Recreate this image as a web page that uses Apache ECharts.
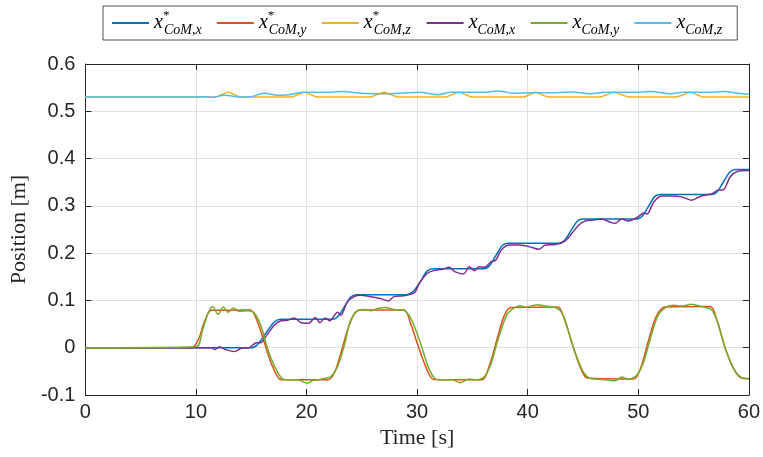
<!DOCTYPE html>
<html><head><meta charset="utf-8">
<script src="https://cdn.jsdelivr.net/npm/echarts@6/dist/echarts.min.js"></script>
<style>html,body{margin:0;padding:0;background:#fff}#c{width:763px;height:457px}</style>
</head><body><div id="c"></div>
<script>
// ---- data (time [s], position [m]) ----
const xTicks = [0, 10, 20, 30, 40, 50, 60];
const yTicks = [-0.1, 0, 0.1, 0.2, 0.3, 0.4, 0.5, 0.6];
const seriesNames = ['x*CoM,x', 'x*CoM,y', 'x*CoM,z', 'xCoM,x', 'xCoM,y', 'xCoM,z'];
const legendStar = [true, true, true, false, false, false];
const legendSub = ['CoM,x', 'CoM,y', 'CoM,z', 'CoM,x', 'CoM,y', 'CoM,z'];

const refX = [[0,0],[15.0,0],[15.5,0.005],[16.3,0.030],[17.1,0.055],[17.7,0.060],[22.3,0.060],[22.8,0.065],[23.4,0.086],[24.0,0.107],[24.5,0.112],
  [29.0,0.112],[29.6,0.118],[30.3,0.140],[30.9,0.162],[31.5,0.167],[36.0,0.167],[36.5,0.172],[37.1,0.194],[37.7,0.216],[38.2,0.221],
  [42.8,0.221],[43.3,0.226],[43.9,0.247],[44.5,0.268],[45.0,0.272],[49.8,0.272],[50.3,0.277],[50.9,0.298],[51.5,0.320],[52.0,0.324],
  [56.6,0.324],[57.1,0.329],[57.7,0.351],[58.3,0.372],[58.8,0.377],[60,0.377]];

const refY = [[0,0],[9.6,0],[10.2,0.016],[10.8,0.057],[11.4,0.079],[14.9,0.080],[15.6,0.052],[16.2,0.010],[16.8,-0.033],[17.5,-0.065],[18.0,-0.068],
  [21.9,-0.068],[22.5,-0.054],[23.1,-0.012],[23.7,0.037],[24.3,0.071],[24.8,0.080],[28.8,0.080],[29.4,0.052],[30.1,0.003],[30.9,-0.047],[31.5,-0.067],
  [35.8,-0.068],[36.6,-0.033],[37.2,0.016],[37.9,0.069],[38.5,0.085],[42.7,0.086],[43.3,0.062],[44.0,0.010],[44.8,-0.044],[45.4,-0.064],
  [49.6,-0.066],[50.2,-0.044],[50.9,0.013],[51.6,0.065],[52.4,0.086],[56.5,0.087],[57.1,0.059],[57.8,0.003],[58.6,-0.044],[59.3,-0.064],[60,-0.065]];

const refZ = [[0,0.530],[11.7,0.530],[12.3,0.535],[12.9,0.540],[13.5,0.535],[14.1,0.530],[18.6,0.530],[19.2,0.535],[19.8,0.540],[20.4,0.535],[21.0,0.530],
  [25.7,0.530],[26.35,0.535],[27.0,0.540],[27.65,0.535],[28.3,0.530],[32.5,0.530],[33.15,0.535],[33.8,0.540],[34.4,0.535],[35.0,0.530],
  [39.6,0.530],[40.15,0.535],[40.7,0.540],[41.3,0.535],[41.9,0.530],[46.5,0.530],[47.15,0.535],[47.8,0.540],[48.5,0.535],[49.2,0.530],
  [53.4,0.530],[54.05,0.535],[54.7,0.540],[55.3,0.535],[55.9,0.530],[60,0.530]];

const measX = [[0,0],[11.4,0],[11.7,-0.004],[12.1,0.002],[12.7,-0.004],[13.5,-0.008],[14.1,-0.001],[14.8,0],[15.4,0.010],[15.9,0.011],[16.3,0.023],
  [17.1,0.048],[17.7,0.057],[18.3,0.058],[18.9,0.063],[19.5,0.053],[20.2,0.052],[20.8,0.064],[21.2,0.053],[21.7,0.063],[22.1,0.057],[22.8,0.075],
  [23.1,0.069],[23.7,0.097],[24.3,0.108],[24.9,0.111],[25.8,0.108],[26.7,0.104],[27.4,0.099],[27.9,0.108],[28.8,0.110],[29.4,0.113],[29.8,0.117],
  [30.2,0.136],[30.9,0.157],[31.5,0.163],[32.3,0.166],[32.9,0.170],[33.4,0.161],[34.2,0.156],[34.7,0.171],[35.2,0.163],[35.6,0.171],[36.1,0.170],
  [36.7,0.182],[37.1,0.185],[37.6,0.206],[38.3,0.217],[39.2,0.217],[39.9,0.215],[40.4,0.212],[41.0,0.208],[41.6,0.217],[42.5,0.218],[43.4,0.226],
  [44.0,0.242],[44.6,0.259],[45.2,0.268],[45.9,0.270],[46.7,0.272],[47.5,0.265],[47.9,0.263],[48.5,0.272],[49.1,0.268],[49.6,0.272],[50.0,0.277],
  [50.5,0.285],[50.8,0.283],[51.4,0.308],[52.1,0.321],[53.0,0.321],[53.9,0.319],[54.8,0.312],[55.7,0.321],[56.6,0.325],[57.2,0.333],[57.7,0.334],
  [58.3,0.361],[59.0,0.373],[60,0.375]];

const measY = [[0,0],[10.0,0.002],[10.6,0.038],[11.1,0.073],[11.5,0.087],[12.0,0.071],[12.5,0.086],[12.9,0.075],[13.4,0.084],[13.9,0.077],[14.7,0.078],
  [15.3,0.073],[15.9,0.045],[16.5,-0.004],[17.1,-0.039],[17.7,-0.063],[18.1,-0.068],[19.2,-0.068],[20.1,-0.075],[20.6,-0.069],[21.0,-0.068],[21.6,-0.065],
  [22.2,-0.061],[22.8,-0.040],[23.4,0.003],[24.0,0.059],[24.6,0.078],[25.2,0.081],[25.8,0.078],[26.4,0.083],[27.1,0.085],[27.9,0.081],[28.9,0.078],
  [29.5,0.059],[30.3,0.010],[31.0,-0.040],[31.6,-0.065],[32.3,-0.068],[33.2,-0.068],[33.9,-0.074],[34.7,-0.066],[35.3,-0.068],[36.1,-0.061],
  [36.7,-0.033],[37.3,0.016],[38.1,0.069],[38.7,0.083],[39.3,0.089],[39.9,0.085],[40.4,0.089],[40.9,0.091],[41.6,0.088],[42.5,0.085],[43.1,0.073],
  [43.7,0.034],[44.3,-0.011],[45.1,-0.054],[45.7,-0.065],[46.7,-0.067],[47.9,-0.070],[48.5,-0.062],[49.1,-0.067],[49.9,-0.057],[50.5,-0.029],
  [51.1,0.020],[51.8,0.069],[52.6,0.087],[53.2,0.090],[53.9,0.088],[54.8,0.092],[55.7,0.087],[56.6,0.081],[57.2,0.052],[57.9,-0.004],[58.7,-0.047],
  [59.3,-0.063],[60,-0.066]];

const measZ = [[0,0.530],[10.0,0.530],[10.8,0.531],[11.4,0.529],[12.6,0.534],[14.1,0.530],[15.0,0.531],[16.2,0.538],[17.4,0.534],[18.0,0.534],
  [19.8,0.540],[21.6,0.540],[23.4,0.542],[24.9,0.538],[27.0,0.537],[29.0,0.539],[30.2,0.540],[31.9,0.535],[33.0,0.540],[36.0,0.540],[37.3,0.543],
  [38.8,0.538],[40.0,0.539],[42.6,0.539],[44.0,0.541],[45.7,0.537],[47.0,0.540],[49.5,0.540],[51.1,0.542],[52.9,0.537],[54.0,0.540],[56.4,0.540],
  [57.8,0.542],[59.0,0.538],[60,0.536]];

const seriesData = [refX, refY, refZ, measX, measY, measZ];
const colors = ['#0072BD', '#D95319', '#EDB120', '#7E2F8E', '#77AC30', '#4DBEEE'];

const axisColor = '#262626';
const gridColor = '#e1e1e1';

const chart = echarts.init(document.getElementById('c'), null, {renderer: 'canvas'});
const fmt = v => String(Number(v.toFixed(1)));

const option = {
  animation: false,
  backgroundColor: '#ffffff',
  color: colors,
  grid: {left: 85, right: 10, top: 64, bottom: 62, containLabel: false},
  legend: {
    left: 103, top: 6,
    padding: [3, 3, 3, 9],
    icon: 'rect',
    itemWidth: 37, itemHeight: 2, itemGap: 4,
    borderColor: axisColor, borderWidth: 0.8, borderRadius: 0,
    backgroundColor: '#ffffff',
    data: seriesNames,
    formatter: function (name) {
      const i = seriesNames.indexOf(name);
      return '{m|x}' + (legendStar[i] ? '{st|*}' : '') + '{sb|' + legendSub[i] + '}';
    },
    textStyle: {
      color: '#000',
      rich: {
        m: {fontFamily: 'Liberation Serif', fontStyle: 'italic', fontSize: 20, lineHeight: 28, color: '#000'},
        st: {fontFamily: 'Liberation Serif', fontSize: 13, lineHeight: 14, width: 1, verticalAlign: 'top', color: '#000'},
        sb: {fontFamily: 'Liberation Serif', fontStyle: 'italic', fontSize: 14, lineHeight: 16, width: 49, verticalAlign: 'bottom', color: '#000'}
      }
    }
  },
  xAxis: [{
    type: 'value', min: 0, max: 60, interval: 10, position: 'bottom',
    axisLine: {show: true, onZero: false, lineStyle: {color: axisColor, width: 1}},
    axisTick: {show: true, inside: true, length: 6, lineStyle: {color: axisColor}},
    axisLabel: {color: axisColor, fontFamily: 'Liberation Sans', fontSize: 20, margin: 7},
    splitLine: {show: true, lineStyle: {color: gridColor, width: 1}},
    name: 'Time [s]', nameLocation: 'middle', nameGap: 32,
    nameTextStyle: {fontFamily: 'Liberation Serif', fontSize: 22, color: axisColor}
  }, {
    type: 'value', min: 0, max: 60, interval: 10, position: 'top',
    axisLine: {show: true, onZero: false, lineStyle: {color: axisColor, width: 1}},
    axisTick: {show: true, inside: true, length: 6, lineStyle: {color: axisColor}},
    axisLabel: {show: false}, splitLine: {show: false}
  }],
  yAxis: [{
    type: 'value', min: -0.1, max: 0.6, interval: 0.1, position: 'left',
    axisLine: {show: true, onZero: false, lineStyle: {color: axisColor, width: 1}},
    axisTick: {show: true, inside: true, length: 6, lineStyle: {color: axisColor}},
    axisLabel: {color: axisColor, fontFamily: 'Liberation Sans', fontSize: 20, margin: 10, formatter: fmt},
    splitLine: {show: true, lineStyle: {color: gridColor, width: 1}},
    name: 'Position [m]', nameLocation: 'middle', nameGap: 54, nameRotate: 90,
    nameTextStyle: {fontFamily: 'Liberation Serif', fontSize: 22, color: axisColor}
  }, {
    type: 'value', min: -0.1, max: 0.6, interval: 0.1, position: 'right',
    axisLine: {show: true, onZero: false, lineStyle: {color: axisColor, width: 1}},
    axisTick: {show: true, inside: true, length: 6, lineStyle: {color: axisColor}},
    axisLabel: {show: false}, splitLine: {show: false}
  }],
  series: seriesData.map((d, i) => ({
    name: seriesNames[i],
    type: 'line',
    data: d,
    xAxisIndex: 0, yAxisIndex: 0,
    showSymbol: false, symbol: 'none',
    smooth: 0.3,
    lineStyle: {width: 1.5, color: colors[i]},
    itemStyle: {color: colors[i]},
    z: 2 + i
  }))
};
chart.setOption(option);
</script>
</body></html>
